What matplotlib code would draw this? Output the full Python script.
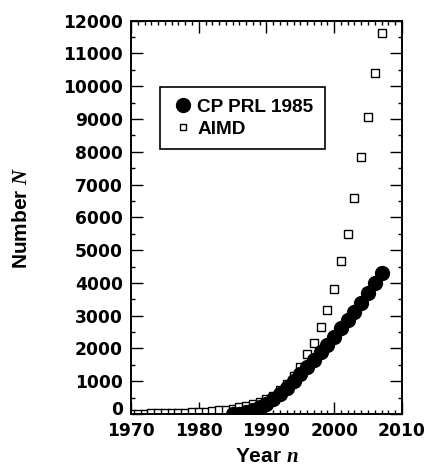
import matplotlib.pyplot as plt
import matplotlib.transforms as mtransforms
from matplotlib.ticker import MultipleLocator

# AIMD (squares), one point per year
aimd_years = list(range(1970, 2008))
aimd_counts = [10, 12, 14, 17, 21, 25, 30, 36, 43, 52, 62, 75, 90, 110, 130, 160,
               200, 240, 300, 370, 460, 560, 720, 915, 1160, 1430, 1820, 2170,
               2640, 3170, 3820, 4660, 5500, 6600, 7840, 9060, 10400, 11640]

# CP PRL 1985 (filled circles)
cp_years = list(range(1985, 2008))
cp_counts = [0, 15, 50, 110, 200, 320, 460, 620, 800, 1000, 1210, 1430, 1660,
             1890, 2120, 2360, 2610, 2865, 3120, 3390, 3680, 3985, 4290]

plt.rcParams['font.family'] = ['Liberation Sans', 'DejaVu Sans']
plt.rcParams['font.weight'] = 'bold'
plt.rcParams['mathtext.fontset'] = 'custom'
plt.rcParams['mathtext.it'] = 'Liberation Serif:italic'

fig = plt.figure(figsize=(4.27, 4.71), dpi=100)
ax = fig.add_axes([0.307, 0.121, 0.634, 0.835])

ax.plot(aimd_years, aimd_counts, 's', markersize=5.5, markerfacecolor='white',
        markeredgecolor='black', markeredgewidth=1.0, label='AIMD', zorder=2)
ax.plot(cp_years, cp_counts, 'o', markersize=10, color='black',
        label='CP PRL 1985', zorder=3)

ax.set_xlim(1970, 2010)
ax.set_ylim(0, 12000)
ax.xaxis.set_major_locator(MultipleLocator(10))
ax.xaxis.set_minor_locator(MultipleLocator(1))
ax.yaxis.set_major_locator(MultipleLocator(1000))
ax.yaxis.set_minor_locator(MultipleLocator(500))

ax.tick_params(which='both', direction='in', top=True, right=True, width=1.0)
ax.tick_params(which='major', length=8.5)
ax.tick_params(which='minor', length=3.2)
ax.tick_params(axis='x', pad=6)
ax.tick_params(axis='y', pad=6)
for lab in ax.get_xticklabels() + ax.get_yticklabels():
    lab.set_fontfamily('DejaVu Sans')
    lab.set_fontweight('bold')
    lab.set_fontsize(12.3)
for sp in ax.spines.values():
    sp.set_linewidth(1.4)

ax.set_xlabel('Year $n$', fontsize=15, fontweight='bold', labelpad=5)
ax.set_ylabel('Number $N$', fontsize=15, fontweight='bold')
ax.yaxis.set_label_coords(-0.37, 0.5)

handles, labels = ax.get_legend_handles_labels()
leg = ax.legend(handles[::-1], labels[::-1], loc='upper left',
                bbox_to_anchor=(0.107, 0.831), borderaxespad=0,
                fancybox=False, edgecolor='black', framealpha=1,
                prop={'weight': 'bold', 'size': 13.7}, handletextpad=0.15,
                handlelength=1.2, borderpad=0.6, labelspacing=0.25)
leg.get_frame().set_linewidth(1.2)
leg.legend_handles[1].set_markersize(4.5)

# nudge the "0" y label up so it does not collide with "1970"
fig.canvas.draw()
for tick in ax.yaxis.get_major_ticks():
    if tick.get_loc() == 0:
        tick.label1.set_transform(tick.label1.get_transform() +
                                  mtransforms.ScaledTranslation(0, 4 / 72, fig.dpi_scale_trans))

fig.savefig('out.png', dpi=100)
